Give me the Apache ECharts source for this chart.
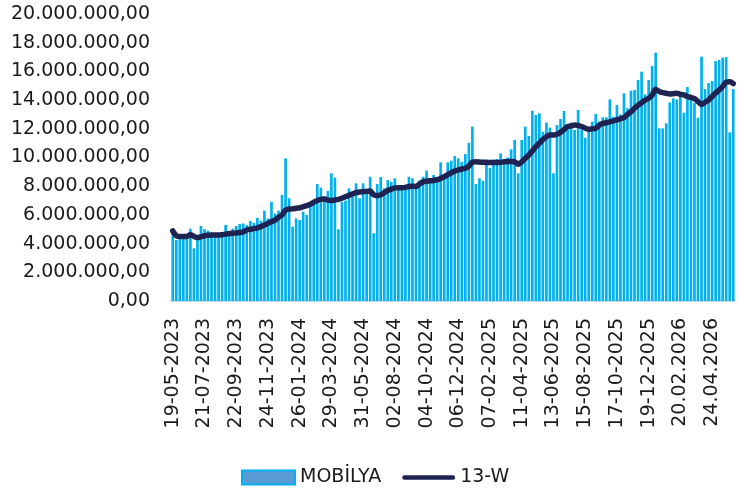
<!DOCTYPE html>
<html>
<head>
<meta charset="utf-8">
<script src="https://cdn.jsdelivr.net/npm/echarts@6/dist/echarts.min.js"></script>
<style>html,body{margin:0;padding:0;background:#fff}#c{width:747px;height:488px}</style>
</head>
<body>
<div id="c"></div>
<script>
// Weekly values, in millions
const mobilya = [
4.88,4.25,4.4,4.67,4.4,5.04,3.67,4.25,5.23,5.0,
4.9,4.75,4.6,4.6,4.65,5.3,4.75,5.04,5.23,5.37,
5.4,5.3,5.57,5.45,5.8,5.6,6.3,5.75,6.92,6.1,
6.3,7.39,9.94,7.16,5.18,5.76,5.64,6.22,6.0,6.85,
6.87,8.15,7.9,7.3,7.67,8.9,8.6,5.0,6.9,7.0,
7.85,7.27,8.2,7.16,8.2,7.75,8.66,4.72,8.15,8.64,
7.85,8.43,8.3,8.55,8.0,8.0,8.0,8.66,8.55,7.9,
8.4,8.66,9.08,8.32,8.78,8.43,9.66,8.83,9.66,9.78,
10.1,9.94,9.7,10.24,11.03,12.15,8.15,8.55,8.38,9.87,
9.29,9.85,9.9,10.29,9.85,10.0,10.57,11.22,8.9,11.22,
12.15,11.5,13.26,12.96,13.08,11.8,12.43,12.08,8.9,12.26,
12.68,13.24,12.26,12.43,11.92,13.31,11.92,11.38,12.08,12.5,
13.03,12.5,12.8,12.8,14.05,12.84,13.66,13.0,14.47,13.43,
14.66,14.7,15.4,15.98,14.4,15.4,16.38,17.3,12.03,12.03,
12.38,13.84,14.12,14.05,14.24,13.12,14.91,14.0,13.8,12.77,
17.03,14.77,15.19,15.33,16.72,16.79,16.96,17.0,11.75,14.77
];
const w13 = [
4.88,4.55,4.5,4.5,4.5,4.62,4.5,4.42,4.48,4.55,
4.58,4.6,4.6,4.6,4.62,4.66,4.69,4.72,4.74,4.77,
4.82,4.95,5.0,5.04,5.1,5.18,5.3,5.41,5.53,5.64,
5.83,6.0,6.34,6.41,6.42,6.46,6.5,6.57,6.64,6.74,
6.88,7.0,7.08,7.1,7.04,7.0,7.04,7.08,7.16,7.27,
7.37,7.46,7.55,7.6,7.62,7.64,7.67,7.4,7.34,7.4,
7.55,7.7,7.8,7.88,7.9,7.9,7.92,7.98,8.0,7.98,
8.15,8.3,8.35,8.38,8.4,8.45,8.55,8.66,8.8,8.94,
9.05,9.13,9.2,9.25,9.4,9.68,9.7,9.68,9.67,9.66,
9.66,9.66,9.65,9.66,9.7,9.71,9.72,9.71,9.53,9.7,
9.94,10.17,10.45,10.75,11.0,11.25,11.45,11.57,11.57,11.62,
11.75,11.95,12.15,12.2,12.26,12.24,12.15,12.05,11.97,12.0,
12.03,12.25,12.38,12.42,12.48,12.55,12.62,12.7,12.78,13.0,
13.2,13.43,13.63,13.82,14.0,14.12,14.35,14.75,14.6,14.52,
14.47,14.43,14.45,14.47,14.4,14.36,14.25,14.19,14.1,13.9,
13.7,13.85,14.0,14.25,14.5,14.7,14.95,15.25,15.28,15.15
];
const tickLabels = ['19-05-2023','21-07-2023','22-09-2023','24-11-2023','26-01-2024','29-03-2024','31-05-2024','02-08-2024','04-10-2024','06-12-2024','07-02-2025','11-04-2025','13-06-2025','15-08-2025','17-10-2025','19-12-2025','20.02.2026','24.04.2026'];
const seriesNames = ['MOBİLYA','13-W'];

// weekly category keys starting 19-05-2023
const categories = mobilya.map((_, i) => {
  const d = new Date(Date.UTC(2023, 4, 19 + 7 * i));
  const p = n => String(n).padStart(2, '0');
  return p(d.getUTCDate()) + '-' + p(d.getUTCMonth() + 1) + '-' + d.getUTCFullYear();
});

function trNum(v) {
  const n = Math.round(v * 1e6);
  return String(n).replace(/\B(?=(\d{3})+(?!\d))/g, '.') + ',00';
}

const FONT = 'DejaVu Sans';
const chart = echarts.init(document.getElementById('c'), null, {renderer: 'canvas'});
chart.setOption({
  animation: false,
  textStyle: {fontFamily: FONT},
  grid: {left: 171, right: 12, top: 14, bottom: 187},
  legend: {
    left: 236, top: 463,
    itemWidth: 53, itemHeight: 14, itemGap: 21,
    textStyle: {fontFamily: FONT, fontSize: 19, color: '#1a1a1a'},
    data: [
      {name: seriesNames[0], icon: 'rect', itemStyle: {color: '#5b9bd5', borderColor: '#00b0f0', borderWidth: 2}},
      {name: seriesNames[1], icon: 'path://M2.5,0 L54.5,0 A2.5,2.5 0 0 1 54.5,5 L2.5,5 A2.5,2.5 0 0 1 2.5,0 Z',
       itemStyle: {color: '#1f2351', borderWidth: 0}}
    ]
  },
  xAxis: {
    type: 'category',
    data: categories,
    boundaryGap: true,
    axisLine: {show: true, lineStyle: {color: '#c9dde9', width: 2}},
    axisTick: {show: false},
    axisLabel: {
      interval: (idx) => idx % 9 === 0,
      rotate: 90, margin: 17,
      fontFamily: FONT, fontSize: 19, color: '#1a1a1a',
      formatter: (v, idx) => tickLabels[Math.round(idx / 9)] || v
    },
    splitLine: {show: false}
  },
  yAxis: {
    type: 'value', min: 0, max: 20, interval: 2,
    axisLine: {show: false}, axisTick: {show: false},
    splitLine: {show: false},
    axisLabel: {
      margin: 21, fontFamily: FONT, fontSize: 19, color: '#1a1a1a',
      formatter: v => v === 0 ? '0,00' : trNum(v)
    }
  },
  series: [
    {
      name: seriesNames[0], type: 'bar', data: mobilya,
      barCategoryGap: '24%',
      itemStyle: {color: '#00b0f0'}
    },
    {
      name: seriesNames[1], type: 'line', data: w13,
      symbol: 'none', smooth: 0.3,
      lineStyle: {color: '#1f2351', width: 5.5, cap: 'round', join: 'round'},
      itemStyle: {color: '#1f2351'}
    }
  ]
});
</script>
</body>
</html>
